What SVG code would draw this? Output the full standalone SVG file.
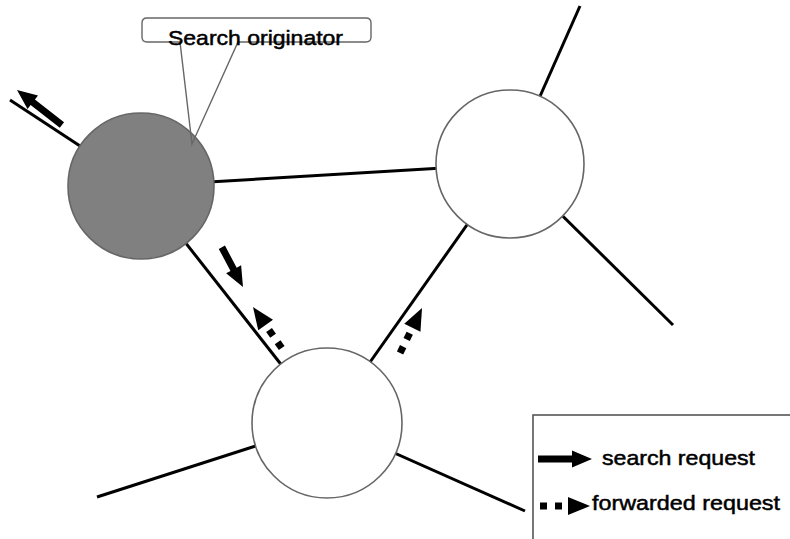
<svg xmlns="http://www.w3.org/2000/svg" width="790" height="539" viewBox="0 0 790 539">
<style>
.link{stroke:#000;stroke-width:3;fill:none;stroke-linecap:butt}
.node{stroke:#666;stroke-width:1.6}
.lbl{font-family:"Liberation Sans",Arial,sans-serif;font-size:21px;fill:#000;stroke:#000;stroke-width:0.5}
.call{fill:none;stroke:#666;stroke-width:1.4}
</style>
<defs>
<g id="darrow"><polygon points="0,0 -22,-9 -22,9" fill="#000"/><rect x="-35" y="-3.5" width="7" height="7" fill="#000"/><rect x="-50" y="-3.5" width="7" height="7" fill="#000"/></g>
</defs>
<rect width="790" height="539" fill="#fff"/>
<g id="connectors">
<line class="link" x1="10" y1="100" x2="141" y2="186"/>
<line class="link" x1="141" y1="186" x2="510" y2="164"/>
<line class="link" x1="141" y1="186" x2="327" y2="423"/>
<line class="link" x1="510" y1="164" x2="580" y2="6"/>
<line class="link" x1="510" y1="164" x2="673" y2="325"/>
<line class="link" x1="510" y1="164" x2="327" y2="423"/>
<line class="link" x1="97" y1="497" x2="327" y2="423"/>
<line class="link" x1="327" y1="423" x2="525" y2="511"/>
</g>
<g id="originator"><circle class="node" cx="141" cy="186" r="73" fill="#808080"/></g>
<g id="node-right"><circle class="node" cx="510" cy="164" r="74" fill="#fff"/></g>
<g id="node-bottom"><circle class="node" cx="327" cy="423" r="75" fill="#fff"/></g>
<g id="arrows">
<polygon transform="translate(17,90) rotate(-142)" points="0,0 -20,-8.5 -20,-3.5 -57,-3.5 -57,3.5 -20,3.5 -20,8.5" fill="#000"/>
<polygon transform="translate(243,287) rotate(62)" points="0,0 -20,-8.5 -20,-3.5 -45,-3.5 -45,3.5 -20,3.5 -20,8.5" fill="#000"/>
<use href="#darrow" transform="translate(253,307) rotate(-125)"/>
<use href="#darrow" transform="translate(422,308) rotate(-64)"/>
</g>
<g id="callout">
<path class="call" d="M147,18 H366 Q371,18 371,23 V37 Q371,42 366,42 H238 L192,144 L180,42 H147 Q142,42 142,37 V23 Q142,18 147,18 Z"/>
<text class="lbl" x="168" y="45" textLength="175" lengthAdjust="spacingAndGlyphs">Search originator</text>
</g>
<g id="legend">
<rect x="533" y="415" width="300" height="200" fill="#fff" stroke="#555" stroke-width="1.6"/>
<polygon transform="translate(592,459)" points="0,0 -20,-8.5 -20,-3.5 -54,-3.5 -54,3.5 -20,3.5 -20,8.5" fill="#000"/>
<use href="#darrow" transform="translate(590,506)"/>
<text class="lbl" x="602" y="465" textLength="153" lengthAdjust="spacingAndGlyphs">search request</text>
<text class="lbl" x="592" y="510" textLength="188" lengthAdjust="spacingAndGlyphs">forwarded request</text>
</g>
</svg>
